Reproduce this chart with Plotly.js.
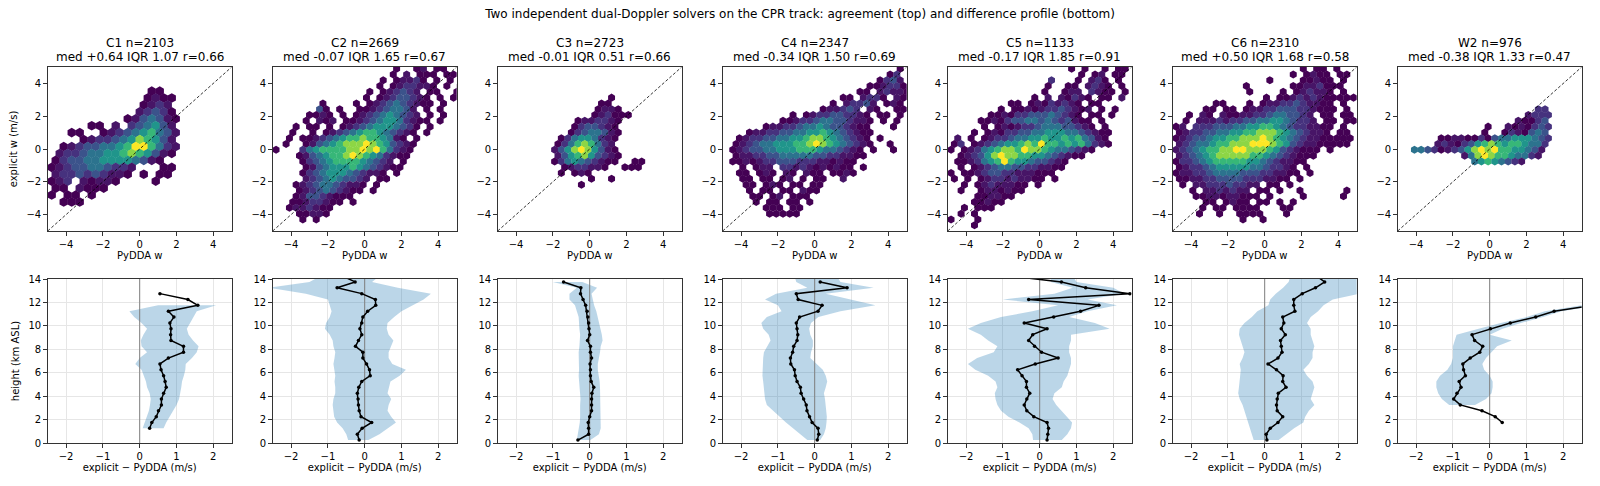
<!DOCTYPE html>
<html>
<head>
<meta charset="utf-8">
<script src="https://cdn.plot.ly/plotly-3.0.1.min.js"></script>
<style>
  html, body { margin: 0; padding: 0; background: #fff; }
  #chart { width: 1600px; height: 486px; }
</style>
</head>
<body>
<div id="chart"></div>
<script>
// ---- per-solver summary statistics ----
const solvers  = ['C1', 'C2', 'C3', 'C4', 'C5', 'C6', 'W2'];
const nPairs   = [2103, 2669, 2723, 2347, 1133, 2310, 976];
const medDiff  = [0.64, -0.07, -0.01, -0.34, -0.17, 0.50, -0.38];
const iqrDiff  = [1.07, 1.65, 0.51, 1.50, 1.85, 1.68, 1.33];
const corrR    = [0.66, 0.67, 0.66, 0.69, 0.91, 0.58, 0.47];

// ---- hexbin counts (PyDDA w vs explicit w), one string per hex row from the top.
// '.' = empty cell, '1'..'9' = count level (low -> high)
const hexC1 = [
  "", "", "",
  "............11",
  "............1211",
  "...........1232",
  "...........23431",
  ".........1245421",
  ".....11.2.345642",
  "..11..1234567542",
  "....123345687642",
  ".123445567997532",
  ".233455667876421",
  "13445566665421",
  "12344554332...11",
  "2334343221.1.11",
  "123.21221....1",
  "11.2111",
  "1.11.1",
  ".111"
];
const hexC2 = [
  "..................1..12.11..",
  ".................1.2.111.11.",
  "................1.12231.1.1.",
  "...............1.1233221.1.1",
  "..............1.123432.11..1",
  ".............1.12344321.1.1.",
  ".......1....1.1234543211.1..",
  "......41.1..112345542.1.1...",
  ".....1121.1.1234565432.1.1..",
  "....1.212.1123456653211.1...",
  "...1.11.1.123456665431.1....",
  "..1..1.12345677654321.1.....",
  "..1.1123456778776521.1......",
  ".1..12456788898764321.......",
  "1...35677778898975321",
  "...12456778987653211",
  "....13456777765432.1",
  "....124566676543211",
  "....1345666543221.1",
  "....2345654432.11",
  "...12345543221.1",
  "...1234543211.1",
  "...124432111",
  "..11233211.1",
  "..1223211",
  "...11221",
  "....1.1"
];
const hexC3 = [
  "", "", "", "", "",
  "................1",
  "...............11",
  "..............1221",
  "..............123111",
  "...........1223321",
  "...........1344321",
  "..........13455421",
  ".........135665321",
  "........135787532",
  "........2468986421",
  "........2467864321",
  "........1356543211..11",
  ".........1233221..111",
  ".........1.121",
  ".............1..1",
  "............1"
];
const hexC4 = [
  "..........................1",
  "........................13",
  ".......................1342",
  ".....................112331",
  "....................11.23221",
  ".................11.2331.21",
  "................1.23342.121",
  "..............122343.21..11",
  "..........1.1233443321.11.1",
  "........11233455443221.1.1",
  "......1223345565443211...1",
  "...1223344556676543211",
  "..12334455667887654321.1",
  ".123455666778987654321..1",
  ".12344556667776554321.1..1",
  ".12233445555544332211",
  ".1121233444333221211",
  "..1.122.33232121211.1",
  "..11.121.21.211.1121",
  "..11.11.12.1.11..2",
  "...11.121.11.11",
  "...1.11.11.211",
  "....11.12.111",
  "....1.11.11.1",
  "......111.11",
  "......11111"
];
const hexC5 = [
  "..................1.1..1.11",
  "...................1.12.11",
  "...............3...1.231.1",
  "..............1..11.2321.1",
  "..............1..122.3211.1",
  "............1.2.21321.11.2",
  ".........11.12132321.11",
  ".......1.112123343212.1.1",
  "......11213344454321.11.1",
  "....11213445545434211.1",
  ".....1.121233455544321.1",
  "...1.1213344556665543211",
  ".2.1.1233455667667675421",
  "13.123456678797767675321",
  "1.12356788798876554321",
  ".1234689887766543211",
  ".11235679766544321",
  ".1.12345544332211",
  "1.11234433222111",
  "1.1.1233232211.1",
  "..1.12322211.1",
  ".1..1221211",
  "....112211",
  "...11211",
  "..1.111",
  ".1.1",
  "1...1",
  "...1"
];
const hexC6 = [
  "...................1.11.1",
  ".................1.1211.11",
  "..............1....11211.1",
  "..........1......11223111",
  "...........1....1.123221.1",
  ".............1.112323211111",
  "......11...1.12233432211.1",
  "....11.11.12233444332111.1",
  "..1.21.21122334554432.11.11",
  ".1.222323344556654332.11.11",
  "12.333444556677654332211.1.",
  "12334455667788876543221.11",
  "123445667788898765432211111",
  "23455677888999876432211111",
  "2345677889988876432111.1",
  "234567888887765432111",
  "13345677777665432211",
  "123345666665543321.1",
  "1223345555444332211.1",
  "11223344443332211.1",
  ".1.2233343322.11.1",
  "..1.2232322.11.1..1......1",
  "...1122122111.1....1.....1",
  "....11.1211.11.1.1",
  "....1.11.1111...11",
  "...1..1..1111...1",
  "..........1..1"
];
const hexW2 = [
  "", "", "", "", "", "", "",
  "....................33",
  "...................2333",
  ".................21134",
  ".............1..2121343",
  "............1..1321454",
  "......11221131455666543",
  ".....23213467876776553",
  "..55431234689897766542",
  ".........258987765532",
  "...........56765432"
];
const hexRows  = [hexC1, hexC2, hexC3, hexC4, hexC5, hexC6, hexW2];
const hexWidth = [0.435, 0.364, 0.364, 0.364, 0.364, 0.364, 0.364];   // hex width, m/s
const hexTopY  = [4.8, 4.9, 4.9, 4.9, 4.9, 4.9, 4.9];

// ---- height profiles of explicit − PyDDA (bin centres, km ASL) ----
const heightKm = [0.25, 0.75, 1.25, 1.75, 2.25, 2.75, 3.25, 3.75, 4.25, 4.75, 5.25, 5.75, 6.25, 6.75,
                  7.25, 7.75, 8.25, 8.75, 9.25, 9.75, 10.25, 10.75, 11.25, 11.75, 12.25, 12.75, 13.25, 13.75, 14.25];

const medC1 = [null, null, 0.27, 0.33, 0.45, 0.51, 0.59, 0.59, 0.65, 0.72, 0.69, 0.65, 0.58, 0.55, 0.78, 1.19, 1.19, 0.85, 0.84, 0.85, 0.82, 0.93, 0.78, 1.58, 1.31, 0.55, null, null, null];
const loC1  = [null, null, 0.08, 0.14, 0.20, 0.25, 0.28, 0.30, 0.27, 0.20, 0.17, 0.12, 0.05, -0.12, 0.00, 0.20, 0.05, 0.03, 0.10, 0.20, 0.05, -0.15, -0.28, 0.50, null, null, null, null, null];
const hiC1  = [null, null, 0.65, 0.72, 0.80, 0.90, 1.00, 1.07, 1.10, 1.13, 1.15, 1.20, 1.24, 1.25, 1.42, 1.55, 1.60, 1.45, 1.33, 1.28, 1.37, 1.45, 1.55, 2.08, null, null, null, null, null];

const medC2 = [-0.15, -0.20, -0.07, 0.19, -0.10, -0.15, -0.17, -0.18, -0.20, -0.16, -0.08, 0.15, 0.13, 0.05, -0.05, -0.05, -0.25, -0.17, -0.08, -0.13, -0.08, -0.05, 0.08, 0.30, 0.29, -0.08, -0.75, -0.26, -0.60];
const loC2  = [-0.45, -0.50, -0.60, -0.75, -0.83, -0.86, -0.87, -0.85, -0.80, -0.80, -0.82, -0.80, -0.82, -0.85, -0.82, -0.80, -0.85, -0.87, -0.95, -1.08, -1.05, -0.95, -0.90, -0.95, -1.00, -1.60, -2.60, -1.50, -1.20];
const hiC2  = [0.10, 0.40, 0.62, 0.85, 0.72, 0.62, 0.65, 0.72, 0.62, 0.65, 0.70, 0.95, 1.12, 0.75, 0.65, 0.65, 0.72, 0.78, 0.65, 0.60, 0.62, 0.80, 1.00, 1.30, 1.60, 1.80, 0.90, 0.20, 0.40];

const medC3 = [-0.32, -0.03, -0.03, -0.04, 0.00, 0.05, 0.05, 0.05, 0.06, 0.11, 0.04, 0.02, 0.02, 0.01, 0.05, 0.02, 0.02, -0.06, 0.00, -0.02, -0.03, -0.05, -0.07, -0.11, -0.18, -0.25, -0.24, -0.71, null];
const loC3  = [-0.35, -0.32, -0.28, -0.27, -0.26, -0.27, -0.26, -0.25, -0.26, -0.28, -0.30, -0.30, -0.29, -0.30, -0.30, -0.30, -0.28, -0.27, -0.26, -0.28, -0.30, -0.30, -0.35, -0.40, -0.55, -0.55, -0.35, -1.00, null];
const hiC3  = [0.02, 0.25, 0.30, 0.30, 0.30, 0.28, 0.30, 0.30, 0.28, 0.28, 0.27, 0.25, 0.22, 0.22, 0.25, 0.28, 0.30, 0.35, 0.33, 0.28, 0.25, 0.22, 0.18, 0.12, 0.08, 0.05, 0.20, -0.20, null];

const medC4 = [0.07, 0.11, 0.09, -0.07, -0.14, -0.21, -0.23, -0.30, -0.37, -0.39, -0.48, -0.53, -0.55, -0.65, -0.66, -0.60, -0.57, -0.48, -0.46, -0.48, -0.50, -0.41, 0.09, 0.20, -0.45, -0.50, 0.88, 0.15, null];
const loC4  = [-0.20, -0.40, -0.60, -0.78, -0.95, -1.12, -1.30, -1.35, -1.36, -1.38, -1.40, -1.42, -1.42, -1.42, -1.40, -1.38, -1.30, -1.20, -1.25, -1.40, -1.45, -1.30, -0.90, -1.00, -1.35, -1.05, -0.20, -0.50, -0.55];
const hiC4  = [0.15, 0.25, 0.30, 0.32, 0.33, 0.32, 0.30, 0.28, 0.25, 0.30, 0.34, 0.30, 0.22, 0.05, -0.12, -0.10, -0.05, -0.05, -0.12, -0.15, -0.10, 0.10, 0.70, 1.65, 0.95, 0.30, 1.60, 0.70, 0.60];

const medC5 = [0.20, 0.22, 0.24, 0.20, -0.16, -0.35, -0.42, -0.35, -0.27, -0.36, -0.36, -0.48, -0.60, -0.12, 0.50, 0.05, -0.14, -0.30, -0.19, 0.20, -0.42, 0.38, 1.11, 1.61, -0.30, 2.45, 1.25, 0.59, -0.80];
const loC5  = [-0.18, -0.20, -0.30, -0.55, -0.85, -1.05, -1.15, -1.20, -1.22, -1.15, -1.20, -1.40, -1.75, -1.95, -1.70, -1.25, -1.15, -1.40, -1.60, -1.95, -1.60, -1.05, -0.20, 0.50, -1.00, 0.40, 0.90, 0.30, 0.30];
const hiC5  = [0.60, 0.75, 0.85, 0.88, 0.75, 0.60, 0.45, 0.35, 0.40, 0.60, 0.65, 0.75, 0.80, 0.85, 0.85, 0.80, 0.80, 0.85, 0.85, 1.90, 1.50, 0.80, 1.30, 2.10, 1.30, 2.30, 2.00, 1.00, 0.90];

const medC6 = [0.06, 0.04, 0.15, 0.36, 0.49, 0.34, 0.32, 0.34, 0.37, 0.58, 0.49, 0.50, 0.32, 0.09, 0.36, 0.47, 0.45, 0.43, 0.56, 0.45, 0.52, 0.49, 0.82, 0.79, 0.79, 1.02, 1.38, 1.63, 1.41];
const loC6  = [-0.30, -0.35, -0.40, -0.45, -0.50, -0.55, -0.60, -0.68, -0.72, -0.70, -0.68, -0.65, -0.65, -0.68, -0.60, -0.55, -0.60, -0.65, -0.70, -0.68, -0.55, -0.35, -0.20, 0.10, 0.15, 0.30, 0.50, 0.65, 0.70];
const hiC6  = [0.38, 0.60, 0.80, 1.05, 1.10, 1.20, 1.35, 1.25, 1.30, 1.35, 1.30, 1.15, 1.05, 1.20, 1.30, 1.30, 1.35, 1.30, 1.25, 1.25, 1.15, 1.25, 1.45, 1.60, 1.85, 2.60, 2.80, 2.80, 2.80];

const medW2 = [null, null, null, 0.34, 0.15, -0.21, -0.80, -0.98, -0.89, -0.78, -0.83, -0.66, -0.71, -0.73, -0.53, -0.27, -0.19, -0.41, -0.48, 0.02, 0.56, 1.25, 1.75, 2.80, null, null, null, null, null];
const loW2  = [null, null, null, null, null, null, -1.10, -1.30, -1.40, -1.45, -1.45, -1.35, -1.15, -1.05, -1.00, -1.00, -1.00, -0.95, -0.90, -0.30, 0.30, 1.00, 1.50, 2.50, null, null, null, null, null];
const hiW2  = [null, null, null, null, null, null, -0.40, -0.10, 0.05, 0.08, 0.08, 0.00, -0.15, -0.20, -0.10, 0.05, 0.20, 0.60, 0.00, 0.35, 0.85, 1.45, 1.95, 3.00, null, null, null, null, null];

const medProfiles = [medC1, medC2, medC3, medC4, medC5, medC6, medW2];
const loProfiles  = [loC1, loC2, loC3, loC4, loC5, loC6, loW2];
const hiProfiles  = [hiC1, hiC2, hiC3, hiC4, hiC5, hiC6, hiW2];

// ---- page geometry (pixels) ----
const W = 1600, H = 486;
const colLeft = 47.7, colStep = 225, boxW = 184;
const topBox = [67, 231], botBox = [279, 443];
const pxPerX = boxW / 10;                   // top panels span -5..5
const pxPerY = (topBox[1] - topBox[0]) / 10;
const countGamma = 1.4;                     // power norm for the hexbin colour scale

function hexCells(rows, sx, sy, yTop) {
  const x = [], y = [], c = [];
  rows.forEach((row, j) => {
    for (let k = 0; k < row.length; k++) {
      const v = parseInt(row[k], 10);
      if (!v) continue;
      x.push(-5 + sx * (k + 0.5 + 0.5 * (j % 2)));
      y.push(yTop - sy * j);
      c.push(v);
    }
  });
  return { x, y, c };
}

function bandPolygon(h, lo, hi) {
  const hs = [], ls = [], us = [];
  h.forEach((v, i) => {
    if (lo[i] !== null && hi[i] !== null) { hs.push(v); ls.push(lo[i]); us.push(hi[i]); }
  });
  return { x: ls.concat(us.slice().reverse()), y: hs.concat(hs.slice().reverse()) };
}

const fmtSigned = v => (v >= 0 ? '+' : '-') + Math.abs(v).toFixed(2);

const traces = [];
const layout = {
  width: W, height: H,
  margin: { l: 0, r: 0, t: 0, b: 0 },
  paper_bgcolor: '#fff', plot_bgcolor: '#fff',
  showlegend: false,
  font: { family: 'DejaVu Sans, sans-serif', size: 10, color: '#000' },
  title: {
    text: 'Two independent dual-Doppler solvers on the CPR track: agreement (top) and difference profile (bottom)',
    x: 0.5, xanchor: 'center', y: 1 - 14 / H, yanchor: 'middle',
    font: { size: 12, color: '#000' }
  },
  annotations: []
};

const axisCommon = {
  showline: true, mirror: true, linecolor: '#333', linewidth: 1,
  ticks: 'outside', ticklen: 3.5, tickwidth: 0.8, tickcolor: '#000',
  tickfont: { size: 10, color: '#000' },
  zeroline: false, fixedrange: true
};

solvers.forEach((name, c) => {
  const left = colLeft + c * colStep;
  const xDom = [left / W, (left + boxW) / W];
  const topDom = [(H - topBox[1]) / H, (H - topBox[0]) / H];
  const botDom = [(H - botBox[1]) / H, (H - botBox[0]) / H];

  const iTop = c + 1, iBot = c + 8;
  const xt = 'x' + (iTop === 1 ? '' : iTop), yt = 'y' + (iTop === 1 ? '' : iTop);
  const xb = 'x' + iBot, yb = 'y' + iBot;

  // --- hexbin agreement panel ---
  const sx = hexWidth[c];
  const wPx = sx * pxPerX;
  const size = wPx / (Math.sqrt(3) / 2);
  const sy = 0.75 * size / pxPerY;
  const cells = hexCells(hexRows[c], sx, sy, hexTopY[c]);
  traces.push({
    type: 'scatter', mode: 'markers', xaxis: xt, yaxis: yt,
    x: cells.x, y: cells.y,
    marker: {
      symbol: 'hexagon', size: size * 1.04,
      color: cells.c.map(v => 1 + 8 * Math.pow((v - 1) / 8, countGamma)),
      colorscale: 'Viridis', cmin: 1, cmax: 9, showscale: false,
      line: { width: 0 }
    },
    hoverinfo: 'skip'
  });
  traces.push({
    type: 'scatter', mode: 'lines', xaxis: xt, yaxis: yt,
    x: [-5, 5], y: [-5, 5],
    line: { color: '#000', width: 0.8, dash: '3px,2px' },
    hoverinfo: 'skip'
  });

  // --- difference profile panel ---
  const band = bandPolygon(heightKm, loProfiles[c], hiProfiles[c]);
  traces.push({
    type: 'scatter', mode: 'lines', xaxis: xb, yaxis: yb,
    x: band.x, y: band.y, fill: 'toself',
    fillcolor: 'rgba(31,119,180,0.3)', line: { width: 0 },
    hoverinfo: 'skip'
  });
  traces.push({
    type: 'scatter', mode: 'lines', xaxis: xb, yaxis: yb,
    x: [0, 0], y: [0, 14],
    line: { color: '#808080', width: 1 },
    hoverinfo: 'skip'
  });
  traces.push({
    type: 'scatter', mode: 'lines+markers', xaxis: xb, yaxis: yb,
    x: medProfiles[c], y: heightKm,
    line: { color: '#000', width: 1.5 },
    marker: { color: '#000', size: 3.5 },
    connectgaps: false
  });

  const topX = Object.assign({}, axisCommon, {
    domain: xDom, anchor: yt, range: [-5, 5], tickvals: [-4, -2, 0, 2, 4], showgrid: false,
    title: { text: 'PyDDA w', font: { size: 10 }, standoff: 3 }
  });
  const topY = Object.assign({}, axisCommon, {
    domain: topDom, anchor: xt, range: [-5, 5], tickvals: [-4, -2, 0, 2, 4], showgrid: false
  });
  if (c === 0) topY.title = { text: 'explicit w (m/s)', font: { size: 10 }, standoff: 6 };

  const botX = Object.assign({}, axisCommon, {
    domain: xDom, anchor: yb, range: [-2.5, 2.5], tickvals: [-2, -1, 0, 1, 2],
    showgrid: true, gridcolor: '#e6e6e6', gridwidth: 1,
    title: { text: 'explicit \u2212 PyDDA (m/s)', font: { size: 10 }, standoff: 3 }
  });
  const botY = Object.assign({}, axisCommon, {
    domain: botDom, anchor: xb, range: [0, 14], tickvals: [0, 2, 4, 6, 8, 10, 12, 14],
    showgrid: true, gridcolor: '#e6e6e6', gridwidth: 1
  });
  if (c === 0) botY.title = { text: 'height (km ASL)', font: { size: 10 }, standoff: 6 };

  layout['xaxis' + (iTop === 1 ? '' : iTop)] = topX;
  layout['yaxis' + (iTop === 1 ? '' : iTop)] = topY;
  layout['xaxis' + iBot] = botX;
  layout['yaxis' + iBot] = botY;

  const cx = (left + boxW / 2) / W;
  layout.annotations.push({
    xref: 'paper', yref: 'paper', x: cx, y: 1 - 43 / H, xanchor: 'center', yanchor: 'middle',
    text: name + ' n=' + nPairs[c], showarrow: false, font: { size: 12, color: '#000' }
  });
  layout.annotations.push({
    xref: 'paper', yref: 'paper', x: cx, y: 1 - 57 / H, xanchor: 'center', yanchor: 'middle',
    text: 'med ' + fmtSigned(medDiff[c]) + ' IQR ' + iqrDiff[c].toFixed(2) + ' r=' + corrR[c].toFixed(2),
    showarrow: false, font: { size: 12, color: '#000' }
  });
});

Plotly.newPlot('chart', traces, layout, { staticPlot: true, displayModeBar: false });
</script>
</body>
</html>
